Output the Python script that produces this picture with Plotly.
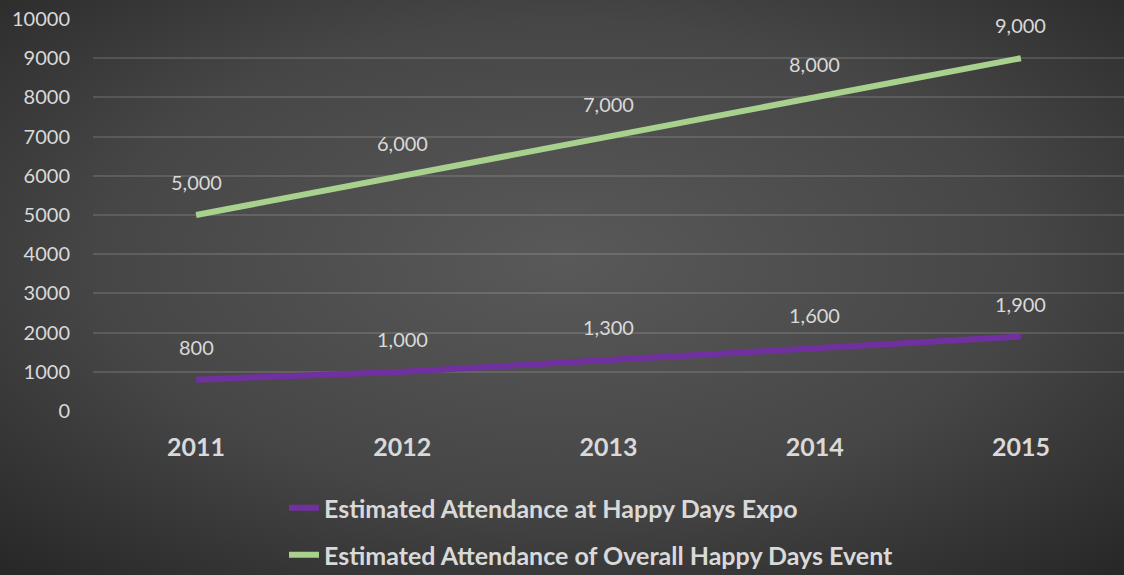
import base64
import plotly.graph_objects as go

years = ["2011", "2012", "2013", "2014", "2015"]
expo = [800, 1000, 1300, 1600, 1900]
overall = [5000, 6000, 7000, 8000, 9000]
expo_labels = ["800", "1,000", "1,300", "1,600", "1,900"]
overall_labels = ["5,000", "6,000", "7,000", "8,000", "9,000"]
name_expo = "Estimated Attendance at Happy Days Expo"
name_overall = "Estimated Attendance of Overall Happy Days Event"

W, H = 1124, 575
ML, MR, MT, MB = 93, 0, 19, 164
pw, ph = W - ML - MR, H - MT - MB

svg = f'''<svg xmlns="http://www.w3.org/2000/svg" width="{W}" height="{H}" viewBox="0 0 {W} {H}" preserveAspectRatio="none">
<defs><radialGradient id="g" cx="0.5" cy="0.45" r="0.75" gradientUnits="objectBoundingBox">
<stop offset="0" stop-color="#595959"/><stop offset="0.55" stop-color="#464646"/><stop offset="1" stop-color="#262626"/>
</radialGradient></defs><rect width="{W}" height="{H}" fill="url(#g)"/></svg>'''
src = "data:image/svg+xml;base64," + base64.b64encode(svg.encode()).decode()

font = "Lato, 'Open Sans', sans-serif"
txt = "#d9d9d9"

fig = go.Figure()
fig.add_trace(go.Scatter(x=years, y=expo, name="<b>" + name_expo + "</b>", mode="lines",
                         line=dict(color="#7030A0", width=6), legend="legend"))
fig.add_trace(go.Scatter(x=years, y=overall, name="<b>" + name_overall + "</b>", mode="lines",
                         line=dict(color="#A9D18E", width=6), legend="legend2"))

for ys, ls in ((expo, expo_labels), (overall, overall_labels)):
    for i, (yv, lv) in enumerate(zip(ys, ls)):
        fig.add_annotation(x=i, y=yv, xref="x", yref="y", text=lv, showarrow=False, yshift=33,
                           font=dict(family=font, size=20, color=txt))

fig.add_layout_image(dict(source=src, xref="paper", yref="paper",
                          x=-ML / pw, y=1 + MT / ph, sizex=W / pw, sizey=H / ph,
                          sizing="stretch", layer="below", xanchor="left", yanchor="top"))

leg = dict(orientation="v", xanchor="left", yanchor="middle", x=(284 - ML) / pw,
           bgcolor="rgba(0,0,0,0)", font=dict(family=font, size=25, color=txt),
           itemwidth=30)

fig.update_layout(
    width=W, height=H,
    margin=dict(l=ML, r=MR, t=MT, b=MB, autoexpand=False),
    paper_bgcolor="#3a3a3a", plot_bgcolor="rgba(0,0,0,0)",
    showlegend=True,
    legend=dict(leg, y=-(508 - MT - ph) / ph),
    legend2=dict(leg, y=-(555 - MT - ph) / ph),
    xaxis=dict(type="category", range=[-0.5, 4.5], showgrid=False, zeroline=False, showline=False,
               automargin=False, ticks="",
               tickfont=dict(family=font, size=25, color=txt, weight="bold"),
               ticklabelstandoff=19),
    yaxis=dict(range=[0, 10000], dtick=1000, tickformat="d", showgrid=True,
               gridcolor="rgba(255,255,255,0.13)", gridwidth=1.5, zeroline=False,
               showline=False, automargin=False, ticks="", ticklabelstandoff=22,
               tickfont=dict(family=font, size=20, color=txt)),
)

fig.write_html("out.html", config={"displayModeBar": False},
               post_script="document.body.style.margin='0';document.body.style.overflow='hidden';")
